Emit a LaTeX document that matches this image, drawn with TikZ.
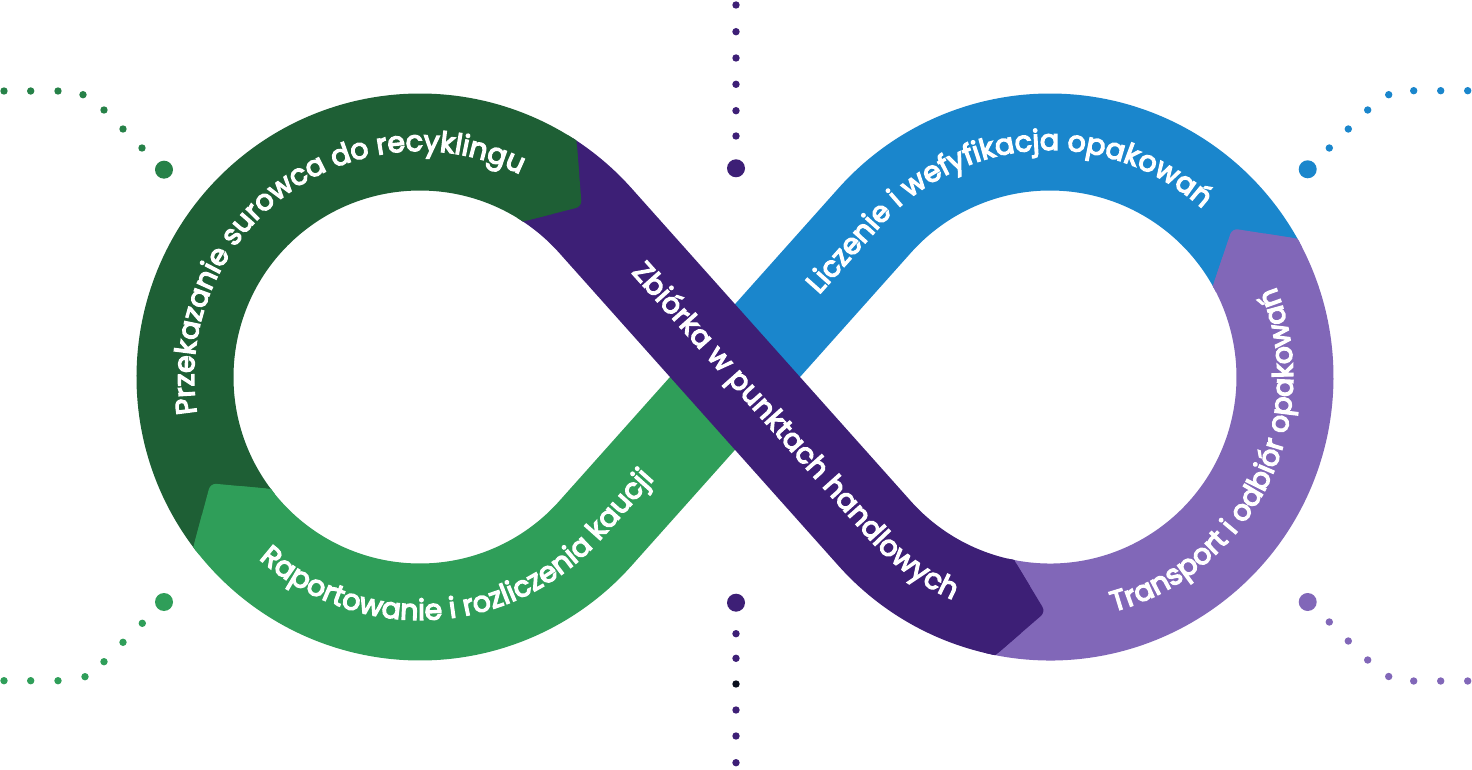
\documentclass[tikz,border=0pt]{standalone}
\usepackage{fontspec}
\setmainfont{Poppins}
\newfontfamily\bandfamily{Poppins}[FakeBold=4.5]
\usetikzlibrary{calc,decorations.text}
\definecolor{dgreen}{HTML}{1E5F35}
\definecolor{lgreen}{HTML}{2F9E59}
\definecolor{mgreen}{HTML}{268148}
\definecolor{purp}{HTML}{3D1F76}
\definecolor{cblue}{HTML}{1A86CC}
\definecolor{lav}{HTML}{8167B8}
\definecolor{dotblack}{HTML}{0B0F1E}
\newcommand\tfont{\bandfamily\fontsize{28.5}{32}\selectfont}
\newcommand\infarrowhead[5]{%
  \coordinate (ahOb) at ($(#2)+(#4:283.5)$);
  \coordinate (ahO) at ($(#2)+(#3:283.5)$);
  \coordinate (ahP) at ($(#2)+(#5:235)$);
  \coordinate (ahI) at ($(#2)+(#3:186.5)$);
  \coordinate (ahIb) at ($(#2)+(#4:186.5)$);
  \fill[#1] (ahOb) -- (ahO) -- ($(ahO)!0.5!(ahP)$) -- ($(ahI)!0.5!(ahP)$) -- (ahI) -- (ahIb) -- cycle;
  \fill[#1, rounded corners=6pt] (ahO) -- (ahP) -- (ahI) -- cycle;
}
\begin{document}
\begin{tikzpicture}[x=1pt,y=1pt,
  band/.style={line width=97pt},
  smalldot/.style={radius=3.7},
  bigdot/.style={radius=9},
  bandtext/.style={decorate,decoration={text along path,text align=center,text color=white,text={|\tfont|#1}}}]
\useasboundingbox (0,0) rectangle (1472,769);
\coordinate (L) at (420,392);
\coordinate (R) at (1050,392);
\coordinate (C) at (735,392);
\coordinate (TL2) at ($(L)+(-41.75:235)$);
\coordinate (TR1) at ($(R)+(138.25:235)$);
\coordinate (TR2) at ($(R)+(221.75:235)$);
% bands
\draw[band,cblue] ($(R)+(28.2:235)$) arc[start angle=28.2,end angle=138.25,radius=235] -- (C);
\draw[band,lgreen] (C) -- (TL2) arc[start angle=-41.75,end angle=-143.1,radius=235];
\draw[band,dgreen] ($(L)+(217.9:235)$) arc[start angle=217.9,end angle=56.5,radius=235];
\draw[band,lav] ($(R)+(257.9:235)$) arc[start angle=257.9,end angle=389.2,radius=235];
\draw[band,purp] ($(L)+(57.5:235)$) arc[start angle=57.5,end angle=41.75,radius=235] -- (TR2) arc[start angle=221.75,end angle=258.9,radius=235];
% arrow heads
\infarrowhead{dgreen}{L}{56.5}{58.5}{46.5}
\infarrowhead{purp}{R}{258.9}{256.9}{268.9}
\infarrowhead{lav}{R}{29.2}{27.2}{39.2}
\infarrowhead{lgreen}{L}{216.9}{218.9}{206.9}
% dots top-left
\foreach \p in {(4,678),(30.7,678),(58,678),(83,674.3),(104,659),(123,640),(142,621)} \fill[mgreen,smalldot] \p circle;
\fill[mgreen,bigdot] (164,599.3) circle;
% dots bottom-left
\foreach \p in {(4,88.3),(30.7,88.3),(58,88.3),(85,92.3),(104,107.3),(123,126.7),(142.3,145.7)} \fill[lgreen,smalldot] \p circle;
\fill[lgreen,bigdot] (164,167) circle;
% dots top middle
\foreach \yy in {764,737.3,711,684.7,658.3,633} \fill[purp,smalldot] (736,\yy) circle;
\fill[purp,bigdot] (736,600.7) circle;
% dots bottom middle
\foreach \yy in {135.3,110.7,59,33,6.3} \fill[purp,smalldot] (736,\yy) circle;
\fill[dotblack,smalldot] (736,85) circle;
\fill[purp,bigdot] (736,166.3) circle;
% dots top-right
\foreach \p in {(1467.7,678.3),(1440.7,678.3),(1413.7,678.3),(1388.7,674.3),(1367.7,659),(1348.3,640),(1329.3,621)} \fill[cblue,smalldot] \p circle;
\fill[cblue,bigdot] (1307.7,599.7) circle;
% dots bottom-right
\foreach \p in {(1467.7,88),(1440.7,88),(1413.7,88),(1388.7,92.5),(1367.7,109),(1348.3,128),(1329.3,147)} \fill[lav,smalldot] \p circle;
\fill[lav,bigdot] (1307.7,167) circle;
% texts
\path[bandtext={Przekazanie surowca do recyklingu}] ($(L)+(200:226)$) arc[start angle=200,end angle=53,radius=226];
\coordinate (TR2b) at ($(R)+(221.75:243)$);
\path[bandtext={Zbiórka w punktach handlowych}] ($(TR2b)+(131.75:410)$) -- (TR2b) arc[start angle=221.75,end angle=259,radius=243];
\path[bandtext={Transport i odbiór opakowań}] ($(R)+(273.5:243)$) arc[start angle=273.5,end angle=393.5,radius=243];
\coordinate (TR1b) at ($(R)+(138.25:227)$);
\path[bandtext={Liczenie i wefyfikacja opakowań}] ($(TR1b)+(228.25:150)$) -- (TR1b) arc[start angle=138.25,end angle=33.3,radius=227];
\path[bandtext={Raportowanie i rozliczenia kaucji}] ($(L)+(211.9:243)$) arc[start angle=211.9,end angle=318.25,radius=243] -- ++(48.25:150);
\end{tikzpicture}
\end{document}
